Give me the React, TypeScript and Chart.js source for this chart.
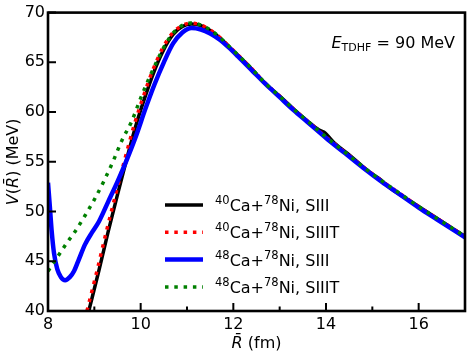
import React, { useEffect, useRef } from 'react';
import { Chart, registerables } from 'chart.js';

Chart.register(...registerables);

// ---- data (R in fm, V in MeV) ----
const ca40SIII_R = [8.88, 9.1, 9.3, 9.5, 9.7, 9.9, 10.1, 10.3, 10.5, 10.7, 10.9, 11.1, 11.3, 11.5, 11.7, 11.9, 12.1, 12.4, 12.7, 13.0, 13.3, 13.6, 13.85, 13.95, 14.2, 14.5, 14.8, 15.05, 15.15, 15.4, 15.7, 16.0, 16.3, 16.6, 17.0];
const ca40SIII_V = [40.0, 44.1, 48.0, 51.7, 55.3, 58.7, 61.6, 64.2, 66.3, 67.8, 68.6, 68.85, 68.7, 68.2, 67.5, 66.6, 65.7, 64.3, 62.8, 61.6, 60.3, 59.1, 58.2, 58.0, 56.8, 55.7, 54.5, 53.6, 53.3, 52.3, 51.4, 50.5, 49.6, 48.7, 47.5];

const ca40SIIIT_R = [8.84, 9.06, 9.26, 9.46, 9.66, 9.86, 10.06, 10.26, 10.46, 10.66, 10.86, 11.08, 11.3, 11.5, 11.7, 11.9, 12.1, 12.4, 12.7, 13.0, 13.3, 13.6, 14.0, 14.4, 14.8, 15.2, 15.6, 16.0, 16.4, 16.8, 17.0];
const ca40SIIIT_V = [40.0, 44.1, 48.0, 51.7, 55.3, 58.7, 61.6, 64.2, 66.3, 67.8, 68.6, 68.95, 68.75, 68.25, 67.55, 66.65, 65.75, 64.35, 62.85, 61.6, 60.3, 59.1, 57.5, 56.0, 54.5, 53.1, 51.8, 50.5, 49.3, 48.1, 47.5];

const ca48SIII_R = [8.0, 8.04, 8.08, 8.13, 8.2, 8.28, 8.37, 8.47, 8.56, 8.65, 8.8, 8.95, 9.1, 9.3, 9.5, 9.7, 9.9, 10.1, 10.3, 10.5, 10.7, 10.9, 11.1, 11.3, 11.5, 11.7, 11.9, 12.1, 12.4, 12.7, 13.0, 13.3, 13.6, 14.0, 14.4, 14.8, 15.2, 15.6, 16.0, 16.4, 16.8, 17.0];
const ca48SIII_V = [52.9, 50.5, 48.0, 45.8, 44.2, 43.4, 43.1, 43.4, 44.0, 45.0, 46.7, 47.9, 49.0, 51.0, 53.0, 55.2, 57.6, 60.3, 62.8, 65.0, 66.9, 68.0, 68.45, 68.3, 67.9, 67.3, 66.5, 65.6, 64.2, 62.8, 61.5, 60.2, 59.0, 57.4, 55.9, 54.4, 53.0, 51.7, 50.4, 49.2, 48.0, 47.4];

const ca48SIIIT_R = [8.0, 8.2, 8.4, 8.6, 8.8, 9.0, 9.2, 9.4, 9.6, 9.8, 10.0, 10.2, 10.4, 10.6, 10.8, 11.08, 11.3, 11.5, 11.7, 11.9, 12.1, 12.4, 12.7, 13.0, 13.3, 13.6, 14.0, 14.4, 14.8, 15.2, 15.6, 16.0, 16.4, 16.8, 17.0];
const ca48SIIIT_V = [44.0, 45.4, 46.8, 48.1, 49.6, 51.2, 53.0, 55.0, 57.2, 59.0, 61.4, 63.6, 65.6, 67.3, 68.4, 68.95, 68.75, 68.25, 67.55, 66.65, 65.75, 64.35, 62.85, 61.6, 60.3, 59.1, 57.5, 56.0, 54.5, 53.1, 51.8, 50.5, 49.3, 48.1, 47.5];

const legendMassCa = ['40', '40', '48', '48'];
const legendMassNi = ['78', '78', '78', '78'];
const legendForce = ['SIII', 'SIIIT', 'SIII', 'SIIIT'];

const xMin = 8, xMax = 17, yMin = 40, yMax = 70;

const FONT = '"DejaVu Sans", sans-serif';

const toXY = (R: number[], V: number[]) => R.map((r, i) => ({ x: r, y: V[i] }));

const decorPlugin = {
  id: 'decor',
  afterDatasetsDraw(chart: any) {
    const { ctx, chartArea } = chart;
    const { left, right, top, bottom } = chartArea;
    const xs = chart.scales.x;
    const ys = chart.scales.y;
    ctx.save();
    ctx.strokeStyle = '#000';
    // inward ticks
    ctx.lineWidth = 2;
    ctx.beginPath();
    xs.ticks.forEach((t: any) => {
      const px = xs.getPixelForValue(t.value);
      const len = t.value % 2 === 0 ? 8 : 4.5;
      ctx.moveTo(px, bottom);
      ctx.lineTo(px, bottom - len);
    });
    ys.ticks.forEach((t: any) => {
      const py = ys.getPixelForValue(t.value);
      ctx.moveTo(left, py);
      ctx.lineTo(left + 8, py);
    });
    ctx.stroke();
    // frame
    ctx.lineWidth = 2.6;
    ctx.strokeRect(left, top, right - left, bottom - top);

    // legend
    const ds = chart.data.datasets;
    const lx0 = 165, lx1 = 203, tx = 215;
    const rowY = [205, 232.3, 259.6, 287];
    ds.forEach((d: any, i: number) => {
      const y = rowY[i];
      ctx.save();
      ctx.strokeStyle = d.borderColor;
      ctx.lineWidth = d.borderWidth;
      ctx.setLineDash(d.borderDash || []);
      ctx.lineCap = 'butt';
      ctx.beginPath();
      ctx.moveTo(lx0, y);
      ctx.lineTo(lx1, y);
      ctx.stroke();
      ctx.restore();
      ctx.fillStyle = '#000';
      ctx.textBaseline = 'alphabetic';
      ctx.textAlign = 'left';
      const base = y + 6;
      let x = tx;
      const sup = (s: string) => {
        ctx.font = `11.5px ${FONT}`;
        ctx.fillText(s, x, base - 7);
        x += ctx.measureText(s).width;
      };
      const norm = (s: string) => {
        ctx.font = `16px ${FONT}`;
        ctx.fillText(s, x, base);
        x += ctx.measureText(s).width;
      };
      sup(legendMassCa[i]);
      norm('Ca+');
      sup(legendMassNi[i]);
      norm('Ni, ' + legendForce[i]);
    });

    // annotation E_TDHF = 90 MeV (right edge ~455)
    {
      const base = 48;
      ctx.fillStyle = '#000';
      ctx.textAlign = 'left';
      ctx.font = `italic 16px ${FONT}`;
      const wE = ctx.measureText('E').width;
      ctx.font = `11px ${FONT}`;
      const wS = ctx.measureText('TDHF').width;
      ctx.font = `16px ${FONT}`;
      const wR = ctx.measureText(' = 90 MeV').width;
      let x = 455 - (wE + wS + wR);
      ctx.font = `italic 16px ${FONT}`;
      ctx.fillText('E', x, base);
      x += wE;
      ctx.font = `11px ${FONT}`;
      ctx.fillText('TDHF', x, base + 3);
      x += wS;
      ctx.font = `16px ${FONT}`;
      ctx.fillText(' = 90 MeV', x, base);
    }

    // x axis title
    {
      ctx.font = `italic 16px ${FONT}`;
      const a = 'R\u0304';
      const wa = ctx.measureText(a).width;
      ctx.font = `16px ${FONT}`;
      const b = ' (fm)';
      const wb = ctx.measureText(b).width;
      let x = (left + right) / 2 - (wa + wb) / 2;
      const base = 348;
      ctx.font = `italic 16px ${FONT}`;
      ctx.fillText(a, x, base);
      x += wa;
      ctx.font = `16px ${FONT}`;
      ctx.fillText(b, x, base);
    }
    // y axis title
    {
      const parts: [string, boolean][] = [['V', true], ['(', false], ['R\u0304', true], [') (MeV)', false]];
      let total = 0;
      const widths = parts.map(([s, it]) => {
        ctx.font = `${it ? 'italic ' : ''}16px ${FONT}`;
        const w = ctx.measureText(s).width;
        total += w;
        return w;
      });
      ctx.translate(18, (top + bottom) / 2);
      ctx.rotate(-Math.PI / 2);
      let x = -total / 2;
      parts.forEach(([s, it], i) => {
        ctx.font = `${it ? 'italic ' : ''}16px ${FONT}`;
        ctx.fillText(s, x, 0);
        x += widths[i];
      });
    }
    ctx.restore();
  },
};

export default function App() {
  const ref = useRef<HTMLCanvasElement | null>(null);
  useEffect(() => {
    if (!ref.current) return;
    const dotted = [3.5, 5.8];
    const chart = new Chart(ref.current, {
      type: 'line',
      data: {
        datasets: [
          { label: '40Ca+78Ni, SIII', data: toXY(ca40SIII_R, ca40SIII_V), borderColor: '#000000', borderWidth: 3.5, borderDash: [], order: 4 },
          { label: '40Ca+78Ni, SIIIT', data: toXY(ca40SIIIT_R, ca40SIIIT_V), borderColor: '#ff0000', borderWidth: 3.5, borderDash: dotted, order: 3 },
          { label: '48Ca+78Ni, SIII', data: toXY(ca48SIII_R, ca48SIII_V), borderColor: '#0000ff', borderWidth: 4.5, borderDash: [], order: 2 },
          { label: '48Ca+78Ni, SIIIT', data: toXY(ca48SIIIT_R, ca48SIIIT_V), borderColor: '#008000', borderWidth: 3.5, borderDash: dotted, order: 1 },
        ].map((d) => ({ ...d, fill: false, pointRadius: 0, tension: 0.4, cubicInterpolationMode: 'monotone' as const, borderCapStyle: 'butt' as const, borderJoinStyle: 'round' as const })),
      },
      options: {
        animation: false,
        responsive: false,
        maintainAspectRatio: false,
        layout: { padding: { top: 6, right: 3, left: 0, bottom: 0 } },
        plugins: { legend: { display: false }, tooltip: { enabled: false } },
        scales: {
          x: {
            type: 'linear',
            min: xMin,
            max: xMax,
            grid: { display: false, drawTicks: false },
            border: { display: false },
            ticks: {
              stepSize: 1,
              autoSkip: false,
              maxRotation: 0,
              padding: 4,
              color: '#000',
              font: { family: 'DejaVu Sans', size: 16 },
              callback: (v: any) => (Number(v) % 2 === 0 ? String(v) : ''),
            },
            afterFit: (s: any) => { s.height = 42; },
          },
          y: {
            type: 'linear',
            min: yMin,
            max: yMax,
            grid: { display: false, drawTicks: false },
            border: { display: false },
            ticks: {
              stepSize: 5,
              padding: 3,
              color: '#000',
              font: { family: 'DejaVu Sans', size: 16 },
            },
            afterFit: (s: any) => { s.width = 48; },
          },
        },
      },
      plugins: [decorPlugin],
    });
    return () => chart.destroy();
  }, []);
  return (
    <div style={{ position: 'fixed', left: 0, top: 0, width: 469, height: 353, background: '#fff' }}>
      <canvas ref={ref} width={469} height={353} style={{ width: 469, height: 353 }} />
    </div>
  );
}
